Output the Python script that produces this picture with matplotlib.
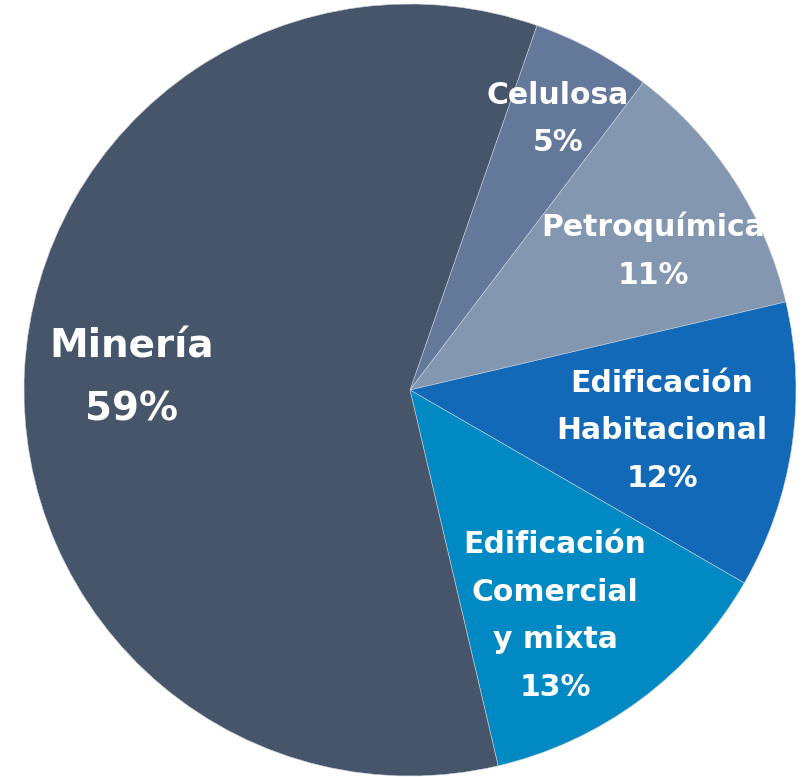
import matplotlib
matplotlib.use("Agg")
import matplotlib.pyplot as plt

categories = ["Celulosa", "Petroquímica", "Edificación\nHabitacional", "Edificación\nComercial\ny mixta", "Minería"]
values = [5, 11, 12, 13, 59]
colors = ["#647899", "#8497b0", "#1169b7", "#0089c3", "#465569"]

# label centre positions in pixels (layout only)
label_px = [(558, 119), (653, 251), (662, 431), (555, 616), (132, 378)]
label_sizes = [21.5, 21.5, 21.5, 21.5, 28]

W, H = 807, 777
cx, cy, R = 410, 390, 386

fig = plt.figure(figsize=(W / 100, H / 100), dpi=100)
ax = fig.add_axes([(cx - R) / W, (H - cy - R) / H, 2 * R / W, 2 * R / H])
ax.pie(values, colors=colors, startangle=70.8, counterclock=False,
       wedgeprops=dict(edgecolor="#c9d0dc", linewidth=0.4), radius=1)
ax.set_xlim(-1, 1)
ax.set_ylim(-1, 1)
ax.set_aspect("equal")
ax.axis("off")

for cat, v, (px, py), fs in zip(categories, values, label_px, label_sizes):
    x = (px - cx) / R
    y = (cy - py) / R
    ax.text(x, y, f"{cat}\n{v}%", ha="center", va="center", multialignment="center",
            color="white", fontsize=fs, fontweight="bold", family="DejaVu Sans",
            linespacing=1.81)

fig.savefig("out.png", dpi=100)
